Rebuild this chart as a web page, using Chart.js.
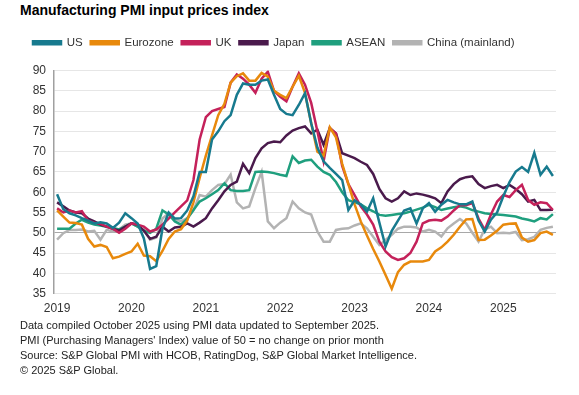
<!DOCTYPE html>
<html>
<head>
<meta charset="utf-8">
<script src="https://cdn.jsdelivr.net/npm/chart.js@4.4.0/dist/chart.umd.min.js"></script>
<style>
  body { margin: 0; background: #fff; font-family: 'Liberation Sans', Arial, sans-serif; }
  #page { position: relative; width: 579px; height: 395px; overflow: hidden; }
  #title { position: absolute; left: 20px; top: 2px; font-size: 14px; font-weight: bold; color: #000; }
  #wrap { position: absolute; left: 0; top: 29px; width: 579px; height: 295px; }
  #notes { position: absolute; left: 20px; top: 318px; font-size: 11px; line-height: 15px; color: #222; }
</style>
</head>
<body>
<div id="page">
  <div id="title">Manufacturing PMI input prices index</div>
  <div id="wrap"><canvas id="myChart"></canvas></div>
  <div id="notes">
    Data compiled October 2025 using PMI data updated to September 2025.<br>
    PMI (Purchasing Managers' Index) value of 50 = no change on prior month<br>
    Source: S&amp;P Global PMI with HCOB, RatingDog, S&amp;P Global Market Intelligence.<br>
    &copy; 2025 S&amp;P Global.
  </div>
</div>
<script>
// monthly, Jan 2019 - Sep 2025
var yearTicks = ['2019', '2020', '2021', '2022', '2023', '2024', '2025'];
var monthNames = ['Jan', 'Feb', 'Mar', 'Apr', 'May', 'Jun', 'Jul', 'Aug', 'Sep', 'Oct', 'Nov', 'Dec'];
var months = [];
yearTicks.forEach(function (y) {
  monthNames.forEach(function (m) { months.push(m + ' ' + y); });
});
months = months.slice(0, 81);

var us = [
  59.5, 55.8, 54.8, 54.3, 53.6, 53.0, 52.3, 52.6, 52.3, 51.2, 52.5, 54.8,
  53.6, 52.3, 48.6, 41.1, 41.8, 51.0, 55.0, 53.5, 53.6, 55.5, 59.0, 65.0,
  65.0, 73.0, 75.0, 77.5, 79.0, 84.0, 86.8, 86.5, 86.5, 87.5, 87.8, 84.0,
  80.5, 79.3, 79.0, 81.5, 84.4, 77.0, 71.0, 67.6, 66.0, 64.5, 63.0, 55.6,
  58.0, 57.0, 55.2, 58.5, 52.5, 46.6, 50.5, 53.0, 55.5, 56.0, 52.3, 56.0,
  57.3, 55.2, 56.9, 58.1, 57.5, 57.0, 57.0, 57.7, 53.0, 50.3, 53.2, 55.0,
  59.0, 62.5, 65.1, 66.2, 65.0, 69.7, 64.3, 66.3, 64.0
];
var eurozone = [
  55.5, 54.0, 52.5, 52.4, 52.0, 48.5, 46.6, 47.0, 46.5, 43.7, 44.1, 44.8,
  45.4, 47.3, 44.4, 44.2, 43.0, 45.5, 48.5, 50.3, 50.9, 53.0, 57.5, 63.5,
  69.0, 74.0, 79.0, 81.8, 87.0, 88.6, 89.3, 87.5, 87.5, 89.4, 88.5, 85.0,
  84.0, 83.2, 86.0, 88.7, 84.5, 77.0, 70.0, 69.0, 76.0, 73.5, 67.0, 62.0,
  57.0, 52.8, 49.3, 46.0, 42.9, 39.6, 36.2, 40.3, 42.1, 42.9, 42.9, 42.9,
  43.3, 45.4, 46.4, 47.8, 49.5, 51.5, 53.3, 53.4, 48.2, 48.3, 49.3, 50.5,
  52.0, 52.2, 52.3, 48.8, 47.8, 48.2, 49.9, 50.3, 49.5
];
var uk = [
  56.0, 55.0, 55.5, 55.0, 55.3, 53.0, 52.5, 52.2, 51.5, 51.0, 50.0, 51.0,
  52.3, 52.0, 51.5, 50.3, 50.8, 52.0, 53.5, 55.0, 56.5, 58.0, 63.0, 73.0,
  78.5, 80.0, 80.5, 81.0, 87.0, 89.0, 88.0, 86.5, 84.5, 88.0, 89.7, 85.0,
  83.5, 82.4, 86.0, 89.3, 86.5, 82.0, 75.0, 67.6, 75.8, 74.5, 66.5, 62.0,
  59.3, 56.5, 54.5, 52.0, 47.8, 45.4, 44.0, 43.3, 43.7, 45.0, 47.8, 52.3,
  53.0, 53.2, 53.0, 54.0, 55.5, 56.8, 56.8, 57.3, 53.5, 50.7, 54.5, 57.7,
  59.3, 58.8, 60.5, 61.8, 58.1, 56.9, 57.5, 57.3, 55.6
];
var japan = [
  57.5, 56.5, 55.5, 55.0, 54.8, 53.5, 52.8, 52.0, 51.5, 51.0, 50.5, 51.5,
  52.3, 52.0, 50.5, 48.5, 49.0, 51.5, 50.3, 51.3, 51.5, 52.3, 51.5, 52.5,
  53.6, 56.0, 58.0, 60.2, 61.8, 62.6, 67.0, 64.7, 68.4, 70.8, 72.1, 72.5,
  72.3, 74.0, 75.2, 75.8, 76.2, 74.5, 75.4, 71.7, 75.8, 74.5, 69.6, 69.0,
  68.4, 67.5, 66.7, 64.5, 60.8, 58.5, 57.7, 58.5, 60.2, 59.3, 59.7, 59.4,
  59.0, 58.5, 57.3, 60.2, 62.0, 63.2, 63.7, 63.9, 62.0, 61.0, 61.5, 61.8,
  61.0, 61.8, 60.8, 59.5, 57.7, 58.1, 55.6, 55.6, 55.7
];
var asean = [
  51.0, 51.0, 51.0, 52.3, 53.2, 52.5, 52.0, 51.8, 51.5, 51.2, 50.8, 51.5,
  52.3, 51.5, 50.5, 50.0, 51.0, 55.5, 54.5, 52.8, 52.0, 53.5, 55.6, 57.7,
  58.5, 59.5, 60.5, 62.2, 60.5, 60.3, 60.3, 60.5, 65.0, 65.1, 65.0, 64.7,
  64.3, 64.0, 68.8, 67.2, 67.8, 68.0, 66.3, 65.0, 64.3, 62.5, 60.0, 58.0,
  57.5, 57.0, 56.0, 55.3, 54.4, 54.2, 54.4, 54.6, 54.8, 55.2, 55.7, 56.2,
  56.9, 56.3, 55.6, 56.0, 56.3, 56.5, 56.2, 55.6, 55.2, 54.8, 54.6, 54.5,
  54.4, 54.2, 54.0, 53.5, 53.2, 52.8, 53.6, 53.3, 54.6
];
var china = [
  48.3, 49.9, 50.7, 50.7, 50.8, 50.3, 50.5, 48.3, 50.7, 50.3, 50.8, 52.0,
  52.3, 51.5, 50.7, 48.3, 48.8, 53.5, 54.8, 53.4, 52.8, 53.6, 55.5, 59.3,
  58.9, 60.5, 61.8, 62.0, 64.3, 57.5, 56.0, 56.5, 61.0, 65.0, 52.8, 51.1,
  52.5, 53.6, 57.7, 56.0, 55.0, 54.5, 50.3, 47.8, 47.8, 50.7, 51.0, 51.1,
  51.8, 52.3, 51.1, 49.0, 47.0, 48.2, 49.5, 51.0, 51.5, 51.5, 51.3, 50.3,
  50.7, 50.3, 49.1, 51.1, 52.3, 53.4, 52.3, 50.0, 47.8, 50.8, 51.5, 49.9,
  50.0, 49.9, 50.2, 48.2, 48.4, 49.0, 50.7, 51.2, 51.5
];

var seriesNames = ['US', 'Eurozone', 'UK', 'Japan', 'ASEAN', 'China (mainland)'];
var seriesData = [us, eurozone, uk, japan, asean, china];
var seriesColors = ['#177a8e', '#e8890c', '#c4215a', '#4a1a4c', '#1f9f7e', '#b3b3b3'];

var font = "'Liberation Sans', Arial, sans-serif";

// extra gap under the legend
var legendGap = {
  id: 'legendGap',
  beforeInit: function (chart) {
    var fit = chart.legend.fit;
    chart.legend.fit = function () {
      fit.call(this);
      this.height += 12;
    };
  },
};

new Chart('myChart', {
  type: 'line',
  data: {
    labels: months,
    datasets: seriesNames.map(function (name, i) {
      return {
        label: name,
        data: seriesData[i],
        borderColor: seriesColors[i],
        backgroundColor: seriesColors[i],
        borderWidth: 2.5,
        pointRadius: 0,
        tension: 0,
      };
    }),
  },
  plugins: [legendGap],
  options: {
    responsive: true,
    maintainAspectRatio: false,
    animation: false,
    layout: { padding: { left: 25, right: 23, top: 0, bottom: 0 } },
    plugins: {
      legend: {
        position: 'top',
        align: 'start',
        labels: {
          boxWidth: 28,
          boxHeight: 3,
          padding: 8,
          color: '#333',
          font: { size: 11.5, family: font },
        },
      },
      tooltip: { enabled: false },
    },
    scales: {
      x: {
        offset: true,
        grid: { display: false, drawTicks: false },
        border: { display: false },
        ticks: {
          autoSkip: false,
          maxRotation: 0,
          padding: 8,
          color: '#333',
          font: { size: 12, family: font },
          callback: function (v, i) {
            return i % 12 === 0 ? yearTicks[i / 12] : '';
          },
        },
      },
      y: {
        min: 35,
        max: 90,
        afterFit: function (scale) { scale.width = 29; },
        grid: {
          drawTicks: false,
          color: function (ctx) {
            return ctx.tick && ctx.tick.value === 50 ? '#a8a8a8' : '#e6e6e6';
          },
        },
        border: { display: true, color: '#a0a0a0', width: 1.5 },
        ticks: {
          stepSize: 5,
          padding: 8,
          color: '#333',
          font: { size: 12, family: font },
        },
      },
    },
  },
});
</script>
</body>
</html>
